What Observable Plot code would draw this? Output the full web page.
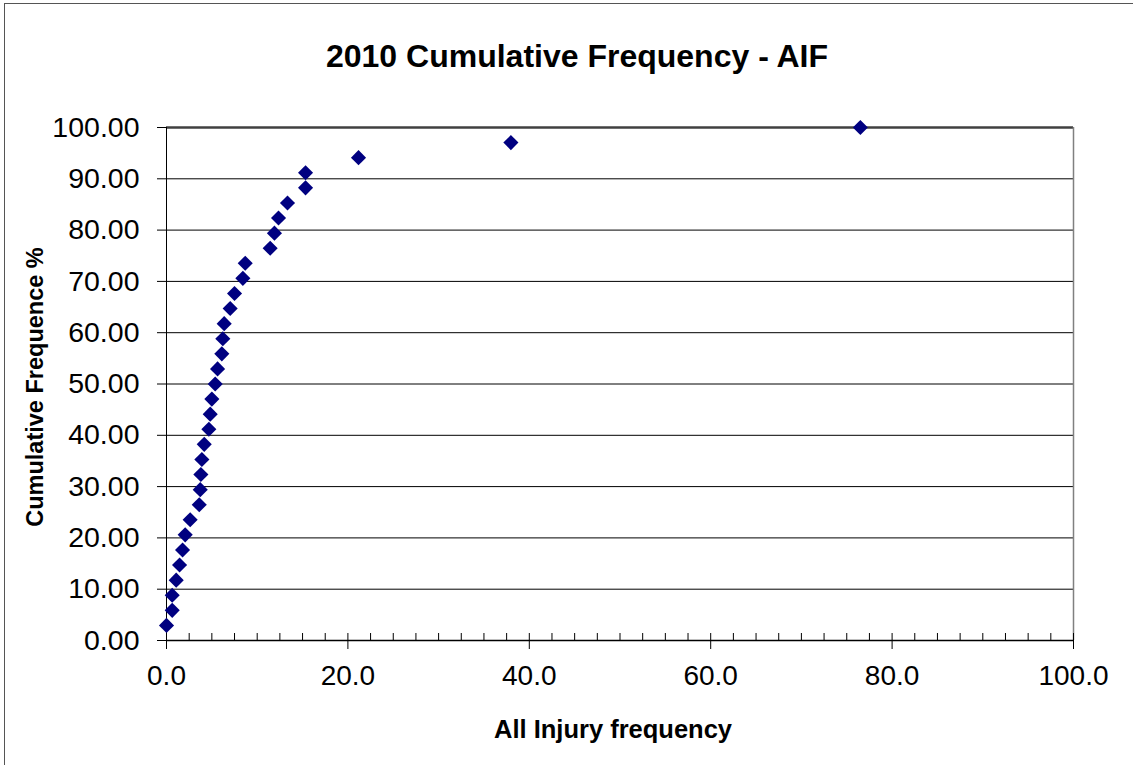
<!DOCTYPE html>
<html>
<head>
<meta charset="utf-8">
<script src="https://cdn.jsdelivr.net/npm/d3@7"></script>
<script src="https://cdn.jsdelivr.net/npm/@observablehq/plot@0.6"></script>
<style>
  html, body { margin: 0; padding: 0; background: #fff; }
  #wrap { position: relative; width: 1133px; height: 765px; overflow: hidden; }
  #border { position: absolute; left: 4px; top: 3px; width: 1200px; height: 800px; border-left: 1.5px solid #555; border-top: 1.5px solid #555; pointer-events: none; }
  #chart svg { display: block; }
</style>
</head>
<body>
<div id="wrap"><div id="chart"></div><div id="border"></div></div>
<script>
// Data
const injuryFrequency = [0.0, 0.63, 0.63, 1.07, 1.44, 1.77, 2.06, 2.61, 3.61, 3.72, 3.79, 3.90, 4.16, 4.67, 4.82, 5.00, 5.37, 5.63, 6.10, 6.21, 6.36, 7.02, 7.50, 8.42, 8.68, 11.43, 11.90, 12.35, 13.34, 15.33, 15.33, 21.17, 37.97, 76.50];
const cumulativePct = [2.94, 5.88, 8.82, 11.76, 14.71, 17.65, 20.59, 23.53, 26.47, 29.41, 32.35, 35.29, 38.24, 41.18, 44.12, 47.06, 50.00, 52.94, 55.88, 58.82, 61.76, 64.71, 67.65, 70.59, 73.53, 76.47, 79.41, 82.35, 85.29, 88.24, 91.18, 94.12, 97.06, 100.00];
const xMajorTicks = [0, 20, 40, 60, 80, 100];
const xMinorTicks = [0, 2.5, 5, 7.5, 10, 12.5, 15, 17.5, 20, 22.5, 25, 27.5, 30, 32.5, 35, 37.5, 40, 42.5, 45, 47.5, 50, 52.5, 55, 57.5, 60, 62.5, 65, 67.5, 70, 72.5, 75, 77.5, 80, 82.5, 85, 87.5, 90, 92.5, 95, 97.5, 100];
const yTicks = [0, 10, 20, 30, 40, 50, 60, 70, 80, 90, 100];
const titleText = "2010 Cumulative Frequency - AIF";
const xLabel = "All Injury frequency";
const yLabel = "Cumulative Frequence %";

const points = injuryFrequency.map((x, i) => ({x, y: cumulativePct[i]}));
const font = "'Liberation Sans', Arial, Helvetica, sans-serif";

const chart = Plot.plot({
  width: 1133,
  height: 765,
  marginLeft: 166,
  marginRight: 60,
  marginTop: 127,
  marginBottom: 125,
  style: {fontFamily: font, background: "#fff", color: "#000"},
  x: {domain: [0, 100], label: null},
  y: {domain: [0, 100], label: null},
  marks: [
    Plot.gridY(yTicks, {stroke: "#000", strokeOpacity: 1, strokeWidth: 1}),
    Plot.ruleY([100], {stroke: "#404040", strokeWidth: 2.5}),
    Plot.ruleX([100], {stroke: "#808080", strokeWidth: 1.5}),
    Plot.ruleX([0], {stroke: "#000", strokeWidth: 1}),
    Plot.ruleY([0], {stroke: "#000", strokeWidth: 1.5}),
    Plot.axisY({ticks: yTicks, tickSize: 9, tickPadding: 18, tickFormat: d => d.toFixed(2), fontSize: 28.5, label: null, stroke: "#000"}),
    Plot.axisX({ticks: xMinorTicks, tickSize: 7, dy: -7, tickFormat: () => "", label: null, stroke: "#000"}),
    Plot.axisX({ticks: xMajorTicks, tickSize: 9, tickPadding: 16, tickFormat: d => d.toFixed(1), fontSize: 28, label: null, stroke: "#000"}),
    Plot.dot(points, {x: "x", y: "y", symbol: "diamond2", r: 6.8, fill: "#000080", stroke: "none"}),
    Plot.text([titleText], {frameAnchor: "top", dy: -83, dx: -43, fontSize: 32, fontWeight: "bold", text: d => d}),
    Plot.text([xLabel], {frameAnchor: "bottom", dy: 97, dx: -7, fontSize: 25.5, fontWeight: "bold", text: d => d}),
    Plot.text([yLabel], {frameAnchor: "left", textAnchor: "middle", dx: -131, dy: 3, rotate: -90, fontSize: 23.5, fontWeight: "bold", text: d => d})
  ]
});
document.getElementById("chart").appendChild(chart);
</script>
</body>
</html>
